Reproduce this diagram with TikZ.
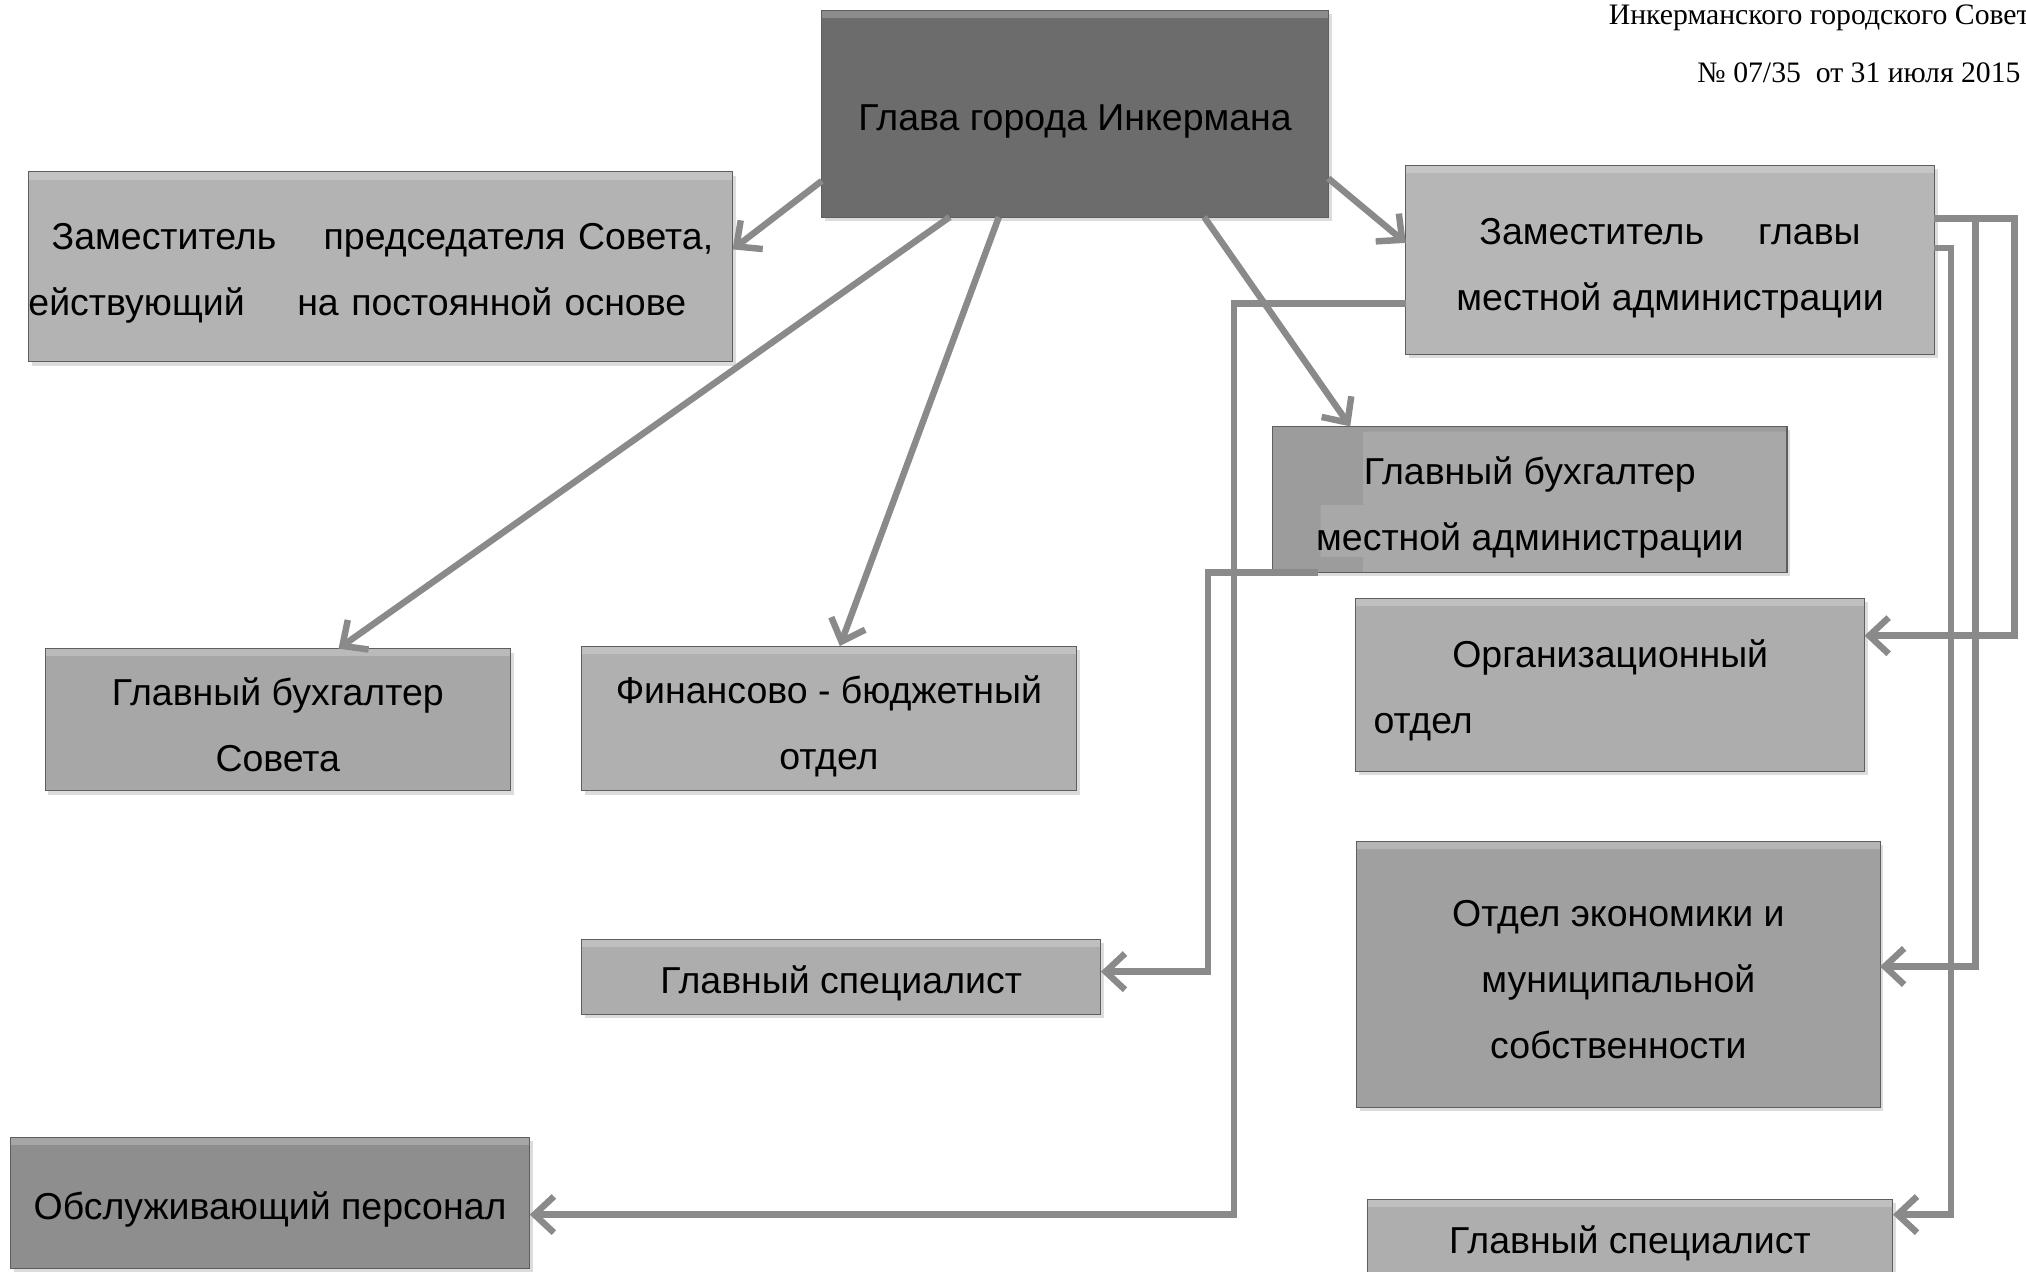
\documentclass[tikz,border=0pt]{standalone}
\usepackage{fontspec}
\setmainfont{Liberation Sans}
\newfontfamily\hdrfont{Liberation Serif}
\usetikzlibrary{arrows.meta,shadows,calc}

\definecolor{conncol}{HTML}{8A8A8A}
\definecolor{edgecol}{HTML}{5E5E5E}
\definecolor{cglava}{HTML}{6C6C6C}
\definecolor{czampred}{HTML}{B3B3B3}
\definecolor{czamglav}{HTML}{B6B6B6}
\definecolor{cbuhmest}{HTML}{9C9C9C}
\definecolor{cbuhmestin}{HTML}{A8A8A8}
\definecolor{cbuhsov}{HTML}{A7A7A7}
\definecolor{cfin}{HTML}{B0B0B0}
\definecolor{corg}{HTML}{ADADAD}
\definecolor{cspecA}{HTML}{ADADAD}
\definecolor{cecon}{HTML}{A0A0A0}
\definecolor{cobsl}{HTML}{8E8E8E}
\definecolor{cspecB}{HTML}{AEAEAE}

\newcommand\boxfnt{\fontsize{29}{51}\selectfont}
\newcommand\hdrfnt{\hdrfont\fontsize{23}{28}\selectfont}
\newcommand\tstrut[1]{\rule{0pt}{#1pt}}

\begin{document}
\begin{tikzpicture}[x=1pt,y=-1pt,
  box/.style={rectangle, draw=edgecol, line width=0.8pt, anchor=north west,
    inner sep=0pt, outer sep=0pt, align=center, font=\boxfnt, text=black,
    drop shadow={shadow xshift=2.5pt, shadow yshift=-3pt, opacity=0.28}},
  bevel/.style={path picture={\fill[white,opacity=0.22]
    (path picture bounding box.north west) rectangle
    ($(path picture bounding box.north east)+(0,6)$);}},
  conn/.style={draw=conncol, line width=5pt,
    -{Straight Barb[length=15pt,width=28pt]}},
  hdr/.style={anchor=base east, font=\hdrfnt, inner sep=0pt}
]
\useasboundingbox (0,0) rectangle (1568,984);
\clip (0,0) rectangle (1568,984);

% header
\node[hdr] (hdr1) at (1571,19) {Инкерманского городского Совет};
\node[hdr] (hdr2) at (1564,64) {№ 07/35\ \ от 31 июля 2015};

% boxes
\node[box, bevel, fill=cglava, minimum width=392pt, minimum height=160pt]
  (glava) at (636,8) {\tstrut{32}Глава города Инкермана};

\node[box, bevel, fill=czampred, minimum width=545pt, minimum height=147pt,
  text width=545pt, align=left]
  (zampred) at (22,133)
  {\tstrut{30}\hspace*{18pt}\makebox[512pt]{Заместитель\hfill председателя Совета,}\\
   \makebox[509pt]{ействующий\hfill на постоянной основе}};

\node[box, bevel, fill=czamglav, minimum width=409pt, minimum height=146pt]
  (zamglav) at (1088,128)
  {\tstrut{34}\makebox[295pt]{Заместитель\hfill главы}\\местной администрации};

\node[box, fill=cbuhmest, minimum width=398pt, minimum height=113pt,
  path picture={
    \fill[cbuhmestin]
      ($(path picture bounding box.north west)+(70,4)$) --
      ($(path picture bounding box.north west)+(398,4)$) --
      ($(path picture bounding box.north west)+(398,113)$) --
      ($(path picture bounding box.north west)+(70,113)$) --
      ($(path picture bounding box.north west)+(70,101)$) --
      ($(path picture bounding box.north west)+(37,101)$) --
      ($(path picture bounding box.north west)+(37,61)$) --
      ($(path picture bounding box.north west)+(70,61)$) -- cycle;}]
  (buhmest) at (985,330) {\tstrut{34}Главный бухгалтер\\местной администрации};

\node[box, bevel, fill=cbuhsov, minimum width=360pt, minimum height=110pt]
  (buhsov) at (35,502) {\tstrut{30}Главный бухгалтер\\Совета};

\node[box, bevel, fill=cfin, minimum width=383pt, minimum height=112pt]
  (fin) at (450,500) {\tstrut{34}Финансово - бюджетный\\отдел};

\node[box, bevel, fill=corg, minimum width=394pt, minimum height=134pt,
  text width=394pt, align=left]
  (org) at (1049,463) {\tstrut{30}\hspace*{75pt}Организационный\\\hspace*{14pt}отдел};

\node[box, bevel, fill=cspecA, minimum width=402pt, minimum height=58pt]
  (specA) at (450,727) {\tstrut{32}Главный специалист};

\node[box, bevel, fill=cecon, minimum width=405pt, minimum height=206pt]
  (econ) at (1050,651) {\tstrut{28}Отдел экономики и\\муниципальной\\собственности};

\node[box, bevel, fill=cobsl, minimum width=402pt, minimum height=102pt]
  (obsl) at (8,880) {\tstrut{32}Обслуживающий персонал};

\node[box, bevel, fill=cspecB, minimum width=407pt, minimum height=68pt]
  (specB) at (1058,928) {Главный специалист};

% connectors from the head
\draw[conn] (glava.west |- 0,140) -- (zampred.east |- 0,193);
\draw[conn] (glava.south -| 735,0) -- (buhsov.north -| 262,0);
\draw[conn] (glava.south -| 773,0) -- (fin.north -| 650,0);
\draw[conn] (glava.south -| 932,0) -- (buhmest.north -| 1045,0);
\draw[conn] (glava.east |- 0,138) -- (zamglav.west |- 0,188);

% elbow connectors
\draw[conn] (zamglav.west |- 0,235) -- (955,235) |- (obsl.east |- 0,940);
\draw[conn] (buhmest.south -| 1020,0) -- (935,443) |- (specA.east |- 0,752);
\draw[conn] (zamglav.east |- 0,169) -- (1559,169) |- (org.east |- 0,492);
\draw[conn] (zamglav.east |- 0,169) -- (1529,169) |- (econ.east |- 0,748);
\draw[conn] (zamglav.east |- 0,192) -- (1510,192) |- (specB.east |- 0,940);
\end{tikzpicture}
\end{document}
